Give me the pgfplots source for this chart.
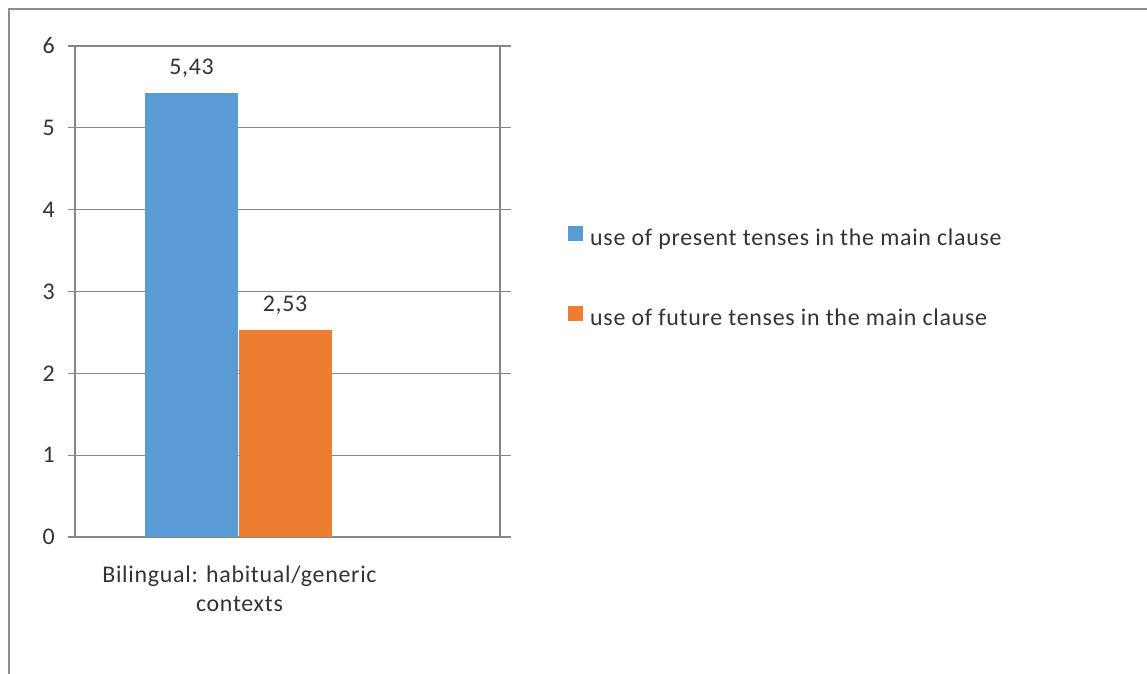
\documentclass[border=0pt]{standalone}
\usepackage{fontspec}
\setmainfont{Carlito}[LetterSpace=3]
\usepackage{pgfplots}
\pgfplotsset{compat=1.18}
\definecolor{barblue}{HTML}{5B9BD5}
\definecolor{barorange}{HTML}{ED7D31}
\definecolor{gridgray}{HTML}{878787}
\definecolor{framegray}{HTML}{8E8E8E}
\definecolor{txt}{HTML}{333333}
\newcommand{\chartfont}{\fontsize{24}{30}\selectfont}

\begin{document}
\begin{tikzpicture}[x=1bp,y=1bp]
\useasboundingbox (0,0) rectangle (1147,674);
\draw[framegray, line width=2bp] (9,0) -- (9,665) -- (1147,665);
\begin{axis}[
  at={(68bp,137bp)}, anchor=south west,
  scale only axis, width=443bp, height=491bp,
  xmin=68, xmax=511, ymin=0, ymax=6,
  axis line style={draw=none},
  ybar, bar width=93,
  ytick={0,1,2,3,4,5,6},
  ymajorgrids, grid style={gridgray, line width=1.3bp},
  ytick style={draw=none},
  yticklabel style={font=\chartfont, text=txt, anchor=east, inner sep=0pt, xshift=-13bp},
  /pgf/number format/assume math mode=true,
  xtick={239.5},
  xticklabels={{Bilingual: habitual/generic\\contexts}},
  xtick style={draw=none},
  xticklabel style={font=\chartfont, text=txt, align=center, anchor=north, inner sep=0pt, yshift=-24bp},
  extra x ticks={75,500},
  extra x tick labels={},
  extra x tick style={xmajorgrids=true, tick align=outside, major tick length=13bp,
    tick style={draw=gridgray, line width=1.3bp}},
  xtick pos=lower,
  nodes near coords={\pgfmathprintnumber[fixed, fixed zerofill, precision=2, use comma]{\pgfplotspointmeta}},
  every node near coord/.append style={font=\chartfont, text=txt, anchor=base, inner sep=0pt, yshift=18bp},
  legend style={at={(1.1287,0.527)}, anchor=west, draw=none, fill=none,
    font=\chartfont, text=txt, inner sep=0pt, row sep=55bp, column sep=7bp,
    nodes={inner sep=0pt, text height=17bp, text depth=5bp}},
  legend cell align=left,
  legend image code/.code={\fill[#1] (0bp,-1bp) rectangle (15bp,14bp);},
]
\addplot[fill=barblue, draw=none, bar shift=0pt] coordinates {(191.5,5.43)};
\addlegendentry{use of present tenses in the main clause}
\addplot[fill=barorange, draw=none, bar shift=0pt] coordinates {(285,2.53)};
\addlegendentry{use of future tenses in the main clause}
\end{axis}
\end{tikzpicture}
\end{document}
